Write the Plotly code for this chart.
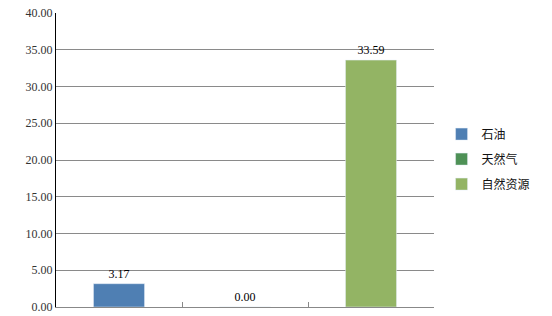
import plotly.graph_objects as go

series = ["石油", "天然气", "自然资源"]
values = [3.17, 0.00, 33.59]
colors = ["#4F7FB3", "#4E9156", "#93B464"]
ytick_vals = [0, 5, 10, 15, 20, 25, 30, 35, 40]
ytick_text = ["%.2f" % v for v in ytick_vals]

SERIF = "Liberation Serif, Times New Roman, serif"

fig = go.Figure()
for i, (name, v, c) in enumerate(zip(series, values, colors)):
    fig.add_trace(go.Bar(
        x=[i], y=[v], name=name, marker_color=c, width=0.405, legendgroup=name,
        text=["%.2f" % v], textposition="outside", cliponaxis=False,
        textfont=dict(family=SERIF, size=12, color="#000"),
    ))

fig.update_layout(
    width=552, height=316,
    margin=dict(l=56, r=118, t=13, b=9, autoexpand=False),
    plot_bgcolor="white", paper_bgcolor="white",
    barmode="overlay",
    font=dict(family=SERIF, size=12, color="#000"),
    legend=dict(x=1.02, y=0.503, xanchor="left", yanchor="middle",
                font=dict(family="Liberation Serif, Noto Sans CJK SC", size=12, color="#111"),
                tracegroupgap=6, itemwidth=30),
    xaxis=dict(range=[-0.5, 2.5], showgrid=False, showline=True, linecolor="#888",
               tickvals=[0.5, 1.5, 2.5], ticks="inside", ticklen=5, tickcolor="#888",
               showticklabels=False, zeroline=False, automargin=False),
    yaxis=dict(range=[0, 40], tickvals=ytick_vals, ticktext=ytick_text,
               showgrid=True, gridcolor="#8a8a8a", gridwidth=1, automargin=False,
               showline=True, linecolor="#000", zeroline=False,
               ticks="", tickfont=dict(family=SERIF, size=12, color="#333")),
    showlegend=True,
)
fig.write_html("out.html")
